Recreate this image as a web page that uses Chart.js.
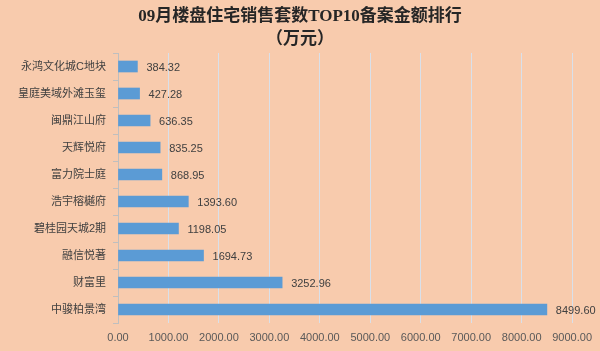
<!DOCTYPE html>
<html>
<head>
<meta charset="utf-8">
<script src="https://cdn.jsdelivr.net/npm/chart.js@4"></script>
<style>
  html, body { margin: 0; padding: 0; background: #f8cbad; }
  #wrap { width: 600px; height: 351px; }
</style>
</head>
<body>
<div id="wrap"><canvas id="rankChart"></canvas></div>
<script>
// 楼盘名称（从上到下）
const projects = [
    "永鸿文化城C地块", "皇庭美域外滩玉玺", "闽鼎江山府", "天辉悦府", "富力院士庭",
    "浩宇榕樾府", "碧桂园天城2期", "融信悦著", "财富里", "中骏柏景湾"
];
// 备案金额（万元）
const amounts = [384.32, 427.28, 636.35, 835.25, 868.95, 1393.60, 1198.05, 1694.73, 3252.96, 8499.60];
const titleLines = ["09月楼盘住宅销售套数TOP10备案金额排行", "（万元）"];

const latinCjk = "'Liberation Sans', 'Noto Sans CJK SC', sans-serif";

// background + centred title (the built-in title would be centred on the padded box)
const bgPlugin = {
    id: "bg",
    beforeDraw(chart) {
        const c = chart.ctx;
        c.save();
        c.fillStyle = "#f8cbad";
        c.fillRect(0, 0, chart.width, chart.height);
        c.fillStyle = "#262626";
        c.font = "bold 17px 'Liberation Serif', 'Noto Sans CJK SC', serif";
        c.textAlign = "center";
        c.textBaseline = "middle";
        c.fillText(titleLines[0], chart.width / 2, 17);
        c.fillText(titleLines[1], chart.width / 2, 40);
        c.restore();
    }
};

// value labels to the right of each bar
const valueLabels = {
    id: "valueLabels",
    afterDatasetsDraw(chart) {
        const c = chart.ctx;
        const meta = chart.getDatasetMeta(0);
        c.save();
        c.font = "11px " + latinCjk;
        c.fillStyle = "#404040";
        c.textAlign = "left";
        c.textBaseline = "middle";
        meta.data.forEach((bar, i) => {
            c.fillText(amounts[i].toFixed(2), bar.x + 9, bar.y + 1);
        });
        c.restore();
    }
};

new Chart(document.getElementById("rankChart"), {
    type: "bar",
    plugins: [bgPlugin, valueLabels],
    data: {
        labels: projects,
        datasets: [{
            data: amounts,
            backgroundColor: "#5b9bd5",
            barThickness: 11,
        }],
    },
    options: {
        indexAxis: "y",
        responsive: true,
        maintainAspectRatio: false,
        animation: false,
        layout: { autoPadding: false, padding: { left: 4, right: 22, top: 53, bottom: 0 } },
        plugins: {
            legend: { display: false },
            tooltip: { enabled: false },
            title: { display: false },
        },
        scales: {
            x: {
                min: 0,
                max: 9000,
                afterFit: (s) => { s.height = 28; },
                ticks: {
                    stepSize: 1000,
                    color: "#595959",
                    font: { family: latinCjk, size: 11 },
                    callback: (v) => Number(v).toFixed(2),
                    padding: 8,
                    maxRotation: 0,
                },
                grid: { color: "#d9e0ea", drawTicks: false },
                border: { display: false },
            },
            y: {
                afterFit: (s) => { s.width = 114; },
                ticks: {
                    color: "#404040",
                    font: { family: latinCjk, size: 11 },
                    padding: 7,
                },
                grid: { drawOnChartArea: false, color: "#bfbfbf", tickLength: 5 },
                border: { color: "#bfbfbf" },
            },
        },
    },
});
</script>
</body>
</html>
